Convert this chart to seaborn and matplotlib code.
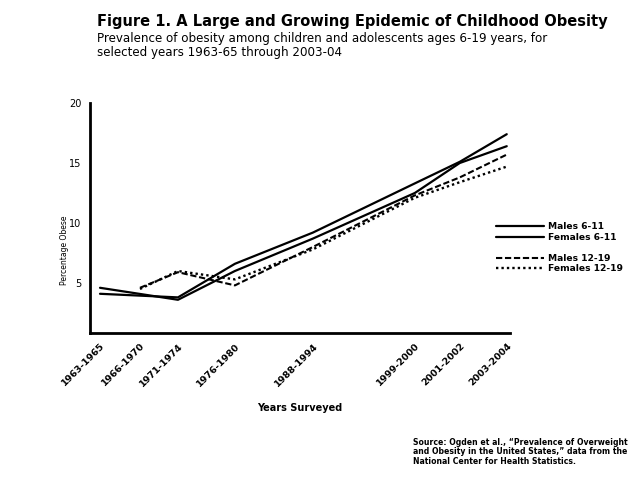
import numpy as np
import pandas as pd
import matplotlib
matplotlib.use("Agg")
import matplotlib.pyplot as plt
import seaborn as sns
from matplotlib.lines import Line2D

# survey periods and obesity prevalence (%)
periods = ["1963-1965", "1966-1970", "1971-1974", "1976-1980",
           "1988-1994", "1999-2000", "2001-2002", "2003-2004"]
males_6_11 = [4.1, np.nan, 3.8, 6.6, 9.2, 13.3, 15.1, 17.4]
females_6_11 = [4.6, np.nan, 3.6, 6.0, 8.7, 12.5, 15.0, 16.4]
males_12_19 = [np.nan, 4.6, 5.9, 4.8, 8.0, 12.3, 13.8, 15.7]
females_12_19 = [np.nan, 4.5, 6.0, 5.3, 7.8, 12.1, 13.4, 14.7]
groups = ["Males 6-11", "Females 6-11", "Males 12-19", "Females 12-19"]
y_ticks = [5, 10, 15, 20]

# uneven spacing of the periods along the axis, as in the original layout
axis_spacing = [0, 40, 78, 135, 213, 315, 360, 407]
period_loc = dict(zip(periods, axis_spacing))

df = pd.DataFrame({"period": periods * 4,
                   "value": males_6_11 + females_6_11 + males_12_19 + females_12_19,
                   "group": np.repeat(groups, len(periods))})
df = df.dropna()
df["x"] = df["period"].map(period_loc)

sns.set_style("white")
plt.rcParams["font.family"] = ["DejaVu Sans"]
plt.rcParams["text.color"] = "black"
plt.rcParams["axes.labelcolor"] = "black"
plt.rcParams["xtick.color"] = "black"
plt.rcParams["ytick.color"] = "black"

fig = plt.figure(figsize=(6.34, 4.78), dpi=100)
ax = fig.add_axes([0.142, 0.3033, 0.662, 0.4812])

dashes = {"Males 6-11": "", "Females 6-11": "",
          "Males 12-19": (3, 1.3), "Females 12-19": (1, 1.3)}
sizes = {"Males 6-11": 1.6, "Females 6-11": 1.6,
         "Males 12-19": 1.5, "Females 12-19": 1.7}
sns.lineplot(data=df, x="x", y="value", hue="group", style="group",
             size="group", sizes=sizes, dashes=dashes, hue_order=groups,
             palette=["black"] * 4, ax=ax, legend=False, sort=False)

ax.set_xlim(-10, 410)
ax.set_ylim(0.83, 20)
ax.set_xticks(axis_spacing)
ax.set_xticklabels(periods, rotation=45, ha="right", rotation_mode="anchor",
                   fontsize=6.8, fontweight="bold")
ax.set_yticks(y_ticks)
ax.set_yticklabels([str(t) for t in y_ticks], fontsize=7)
ax.tick_params(axis="both", direction="out", length=4, width=1.5, pad=2)
for s in ["top", "right"]:
    ax.spines[s].set_visible(False)
for s in ["left", "bottom"]:
    ax.spines[s].set_linewidth(2)
    ax.spines[s].set_color("black")
ax.set_xlabel("Years Surveyed", fontsize=7, fontweight="bold", labelpad=11)
ax.set_ylabel("Percentage Obese", fontsize=5.5)
ax.yaxis.set_label_coords(-0.05, 0.36)

# legend to the right of the plot, with a gap between the age groups
handles = []
for g in groups:
    ls = "-" if dashes[g] == "" else (0, dashes[g])
    handles.append(Line2D([], [], color="black", lw=sizes[g], linestyle=ls))
blank = Line2D([], [], color="none")
leg = fig.legend(handles[:2] + [blank] + handles[2:],
                 groups[:2] + [""] + groups[2:],
                 loc="upper left", bbox_to_anchor=(0.77, 0.552),
                 frameon=False, fontsize=6.6, handlelength=5.2,
                 handletextpad=0.4, labelspacing=0.16)
for t in leg.get_texts():
    t.set_fontweight("bold")

fig.text(0.153, 0.955, "Figure 1. A Large and Growing Epidemic of Childhood Obesity",
         fontsize=10.5, fontweight="bold", va="center")
fig.text(0.153, 0.905, "Prevalence of obesity among children and adolescents ages 6-19 years, for\n"
         "selected years 1963-65 through 2003-04",
         fontsize=8.6, va="center", linespacing=1.1)
fig.text(0.652, 0.055, "Source: Ogden et al., \u201cPrevalence of Overweight\n"
         "and Obesity in the United States,\u201d data from the\n"
         "National Center for Health Statistics.",
         fontsize=5.6, fontweight="bold", va="center", linespacing=1.05)

fig.savefig("out.png", dpi=100)
